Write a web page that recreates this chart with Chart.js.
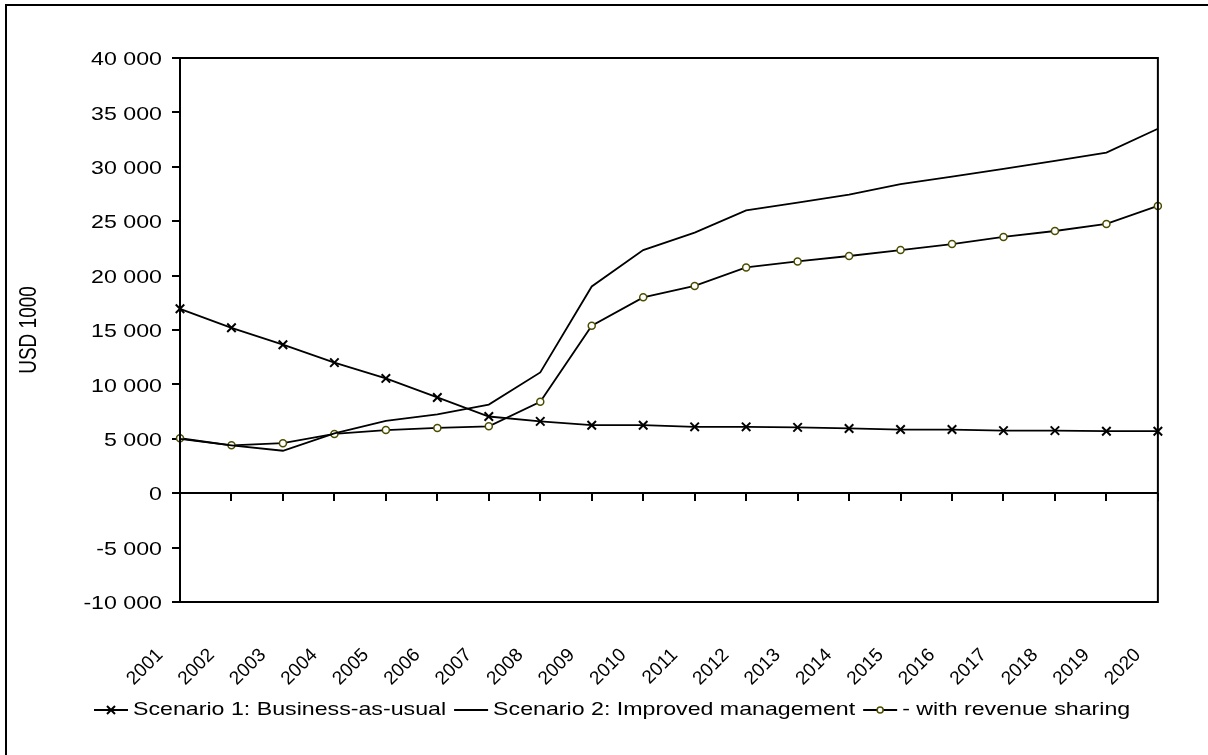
<!DOCTYPE html>
<html>
<head>
<meta charset="utf-8">
<script src="https://cdn.jsdelivr.net/npm/chart.js@4.4.1/dist/chart.umd.min.js"></script>
<style>
  html, body { margin: 0; padding: 0; background: #fff; }
  #wrap { width: 1208px; height: 755px; position: relative; }
</style>
</head>
<body>
<div id="wrap"><canvas id="grafico" width="1208" height="755"></canvas></div>
<script>
const years = ['2001', '2002', '2003', '2004', '2005', '2006', '2007', '2008', '2009', '2010',
  '2011', '2012', '2013', '2014', '2015', '2016', '2017', '2018', '2019', '2020'];

const scenario1 = [16950, 15200, 13650, 12000, 10550, 8800, 7050, 6600, 6250, 6250,
  6100, 6100, 6050, 5950, 5850, 5850, 5750, 5750, 5700, 5700];

const scenario2 = [5000, 4400, 3900, 5500, 6650, 7250, 8150, 11100, 19000, 22350,
  23950, 26000, 26700, 27450, 28400, 29100, 29800, 30550, 31300, 33500];

const revenueSharing = [5050, 4400, 4600, 5450, 5800, 6000, 6150, 8400, 15400, 18000,
  19050, 20750, 21300, 21800, 22350, 22900, 23550, 24100, 24750, 26400];

const seriesNames = ['Scenario 1: Business-as-usual', 'Scenario 2: Improved management', '- with revenue sharing'];

const yMin = -10000, yMax = 40000, yStep = 5000;
const yTitle = 'USD 1000';

const fuente = 'Liberation Sans';
const olive = '#4d4d00';
const ancho = 1.22; // el original tiene el texto algo ensanchado

function formatoMiles(v) {
  const s = Math.abs(v).toString().replace(/\B(?=(\d{3})+(?!\d))/g, ' ');
  return (v < 0 ? '-' : '') + s;
}

// texto ensanchado en horizontal
function textoAncho(ctx, txt, x, y, rot) {
  ctx.save();
  ctx.translate(x, y);
  ctx.scale(ancho, 1);
  if (rot) ctx.rotate(rot);
  ctx.fillText(txt, 0, 0);
  ctx.restore();
}

// borde del area, linea del cero con sus marcas, marco exterior, etiquetas del eje y y leyenda
const extras = {
  id: 'extras',
  beforeDraw(chart) {
    const ctx = chart.ctx;
    ctx.save();
    ctx.strokeStyle = '#000';
    ctx.lineWidth = 2;
    ctx.strokeRect(6, 5, 1400, 1000);
    ctx.restore();
  },
  afterDatasetsDraw(chart) {
    const ctx = chart.ctx;
    const a = chart.chartArea;
    const x = chart.scales.x, y = chart.scales.y;
    ctx.save();
    ctx.strokeStyle = '#000';
    ctx.lineWidth = 2;
    ctx.strokeRect(a.left, a.top, a.right - a.left, a.bottom - a.top);
    const y0 = Math.round(y.getPixelForValue(0));
    ctx.beginPath();
    ctx.moveTo(a.left, y0);
    ctx.lineTo(a.right, y0);
    for (let i = 1; i < years.length; i++) {
      const px = Math.round(x.getPixelForValue(i));
      ctx.moveTo(px, y0);
      ctx.lineTo(px, y0 + 8);
    }
    ctx.stroke();
    ctx.restore();
  },
  afterDraw(chart) {
    const ctx = chart.ctx;
    const a = chart.chartArea;
    const y = chart.scales.y;
    ctx.save();
    ctx.font = '19px "' + fuente + '"';
    ctx.fillStyle = '#000';

    // etiquetas del eje y
    ctx.textAlign = 'right';
    ctx.textBaseline = 'middle';
    y.ticks.forEach(t => {
      textoAncho(ctx, formatoMiles(t.value), a.left - 18, y.getPixelForValue(t.value) + 2);
    });

    // titulo del eje y
    ctx.textAlign = 'center';
    textoAncho(ctx, yTitle, 30, (a.top + a.bottom) / 2, -Math.PI / 2);

    // leyenda
    ctx.textAlign = 'left';
    const ly = 710;
    let lx = 94;
    chart.data.datasets.forEach(ds => {
      ctx.strokeStyle = '#000';
      ctx.lineWidth = 1.8;
      ctx.beginPath();
      ctx.moveTo(lx, ly);
      ctx.lineTo(lx + 34, ly);
      ctx.stroke();
      const cx = lx + 17;
      if (ds.pointStyle === 'crossRot') {
        ctx.lineWidth = 2;
        ctx.beginPath();
        ctx.moveTo(cx - 4, ly - 4); ctx.lineTo(cx + 4, ly + 4);
        ctx.moveTo(cx - 4, ly + 4); ctx.lineTo(cx + 4, ly - 4);
        ctx.stroke();
      } else if (ds.pointRadius > 0) {
        ctx.fillStyle = ds.pointBackgroundColor;
        ctx.strokeStyle = ds.pointBorderColor;
        ctx.lineWidth = 1.5;
        ctx.beginPath();
        ctx.arc(cx, ly, 3, 0, Math.PI * 2);
        ctx.fill();
        ctx.stroke();
        ctx.fillStyle = '#000';
      }
      textoAncho(ctx, ds.label, lx + 39, ly);
      lx += 39 + ctx.measureText(ds.label).width * ancho + 8;
    });
    ctx.restore();
  }
};

new Chart(document.getElementById('grafico').getContext('2d'), {
  type: 'line',
  data: {
    labels: years,
    datasets: [{
      label: seriesNames[0],
      data: scenario1,
      borderColor: '#000',
      borderWidth: 1.8,
      pointStyle: 'crossRot',
      pointRadius: 6,
      pointBorderColor: '#000',
      pointBorderWidth: 2,
      tension: 0
    }, {
      label: seriesNames[1],
      data: scenario2,
      borderColor: '#000',
      borderWidth: 1.8,
      pointRadius: 0,
      tension: 0
    }, {
      label: seriesNames[2],
      data: revenueSharing,
      borderColor: '#000',
      borderWidth: 1.8,
      pointStyle: 'circle',
      pointRadius: 3.5,
      pointBorderColor: olive,
      pointBackgroundColor: '#ffffff',
      pointBorderWidth: 1.5,
      tension: 0
    }]
  },
  options: {
    responsive: false,
    animation: false,
    devicePixelRatio: 1,
    layout: { padding: { left: 5, right: 31, top: 58, bottom: 0 } },
    plugins: {
      legend: { display: false },
      tooltip: { enabled: false }
    },
    scales: {
      x: {
        type: 'category',
        offset: false,
        grid: { display: false },
        border: { display: false },
        ticks: {
          autoSkip: false,
          maxRotation: 45,
          minRotation: 45,
          padding: 34,
          labelOffset: -20,
          color: '#000',
          font: { family: fuente, size: 19 }
        },
        afterFit(s) { s.height = 153; }
      },
      y: {
        min: yMin,
        max: yMax,
        ticks: {
          display: false,
          stepSize: yStep
        },
        grid: { drawOnChartArea: false, tickLength: 8, color: '#000', lineWidth: 2 },
        border: { display: true, color: '#000', width: 2 },
        afterFit(s) { s.width = 175; }
      }
    }
  },
  plugins: [extras]
});
</script>
</body>
</html>
